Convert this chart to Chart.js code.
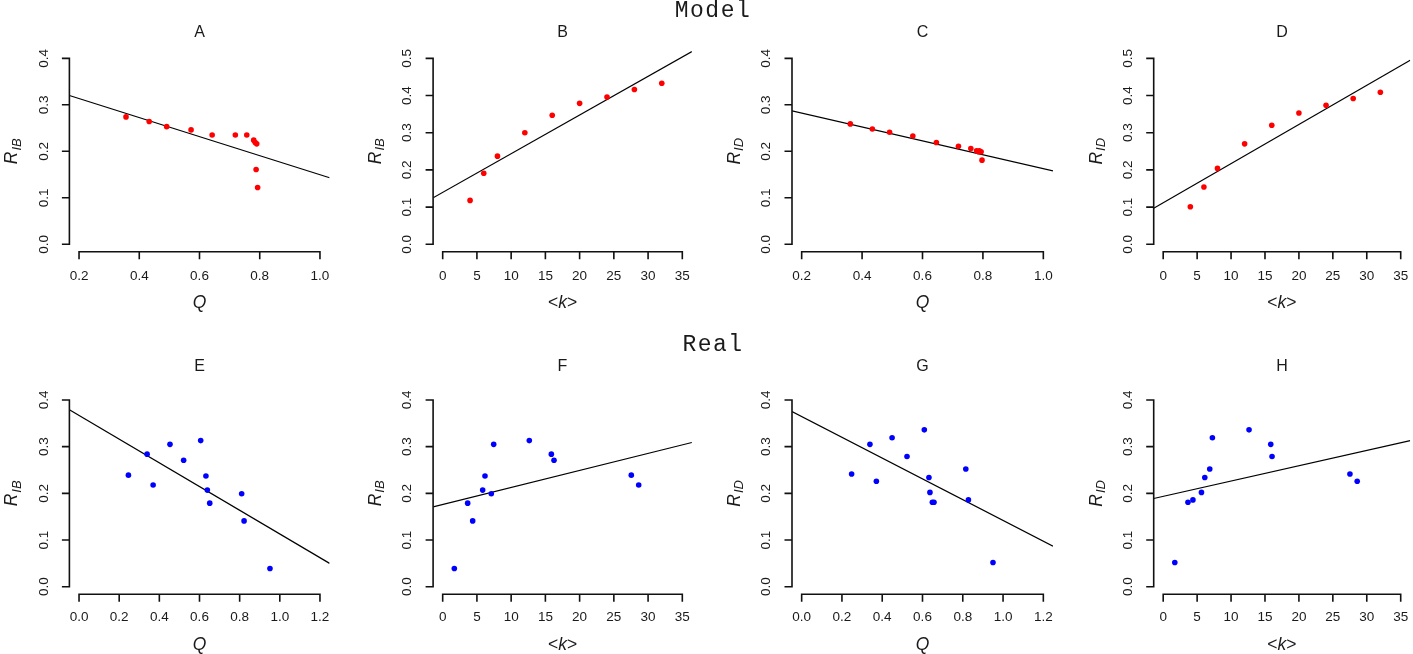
<!DOCTYPE html>
<html>
<head>
<meta charset="utf-8">
<script src="https://cdn.jsdelivr.net/npm/chart.js@4/dist/chart.umd.min.js"></script>
<style>
html,body{margin:0;padding:0;background:#fff;}
#wrap{position:relative;width:1413px;height:654px;overflow:hidden;background:#fff;}
#wrap canvas{position:absolute;left:0;top:0;}
</style>
</head>
<body>
<div id="wrap"></div>
<script>
// ================= DATA =================
const panelLetters = ["A","B","C","D","E","F","G","H"];
const rowTitles = ["Model","Real"];

const qTicksModel = [0.2,0.4,0.6,0.8,1.0];
const qTickLabelsModel = ["0.2","0.4","0.6","0.8","1.0"];
const qTicksReal = [0.0,0.2,0.4,0.6,0.8,1.0,1.2];
const qTickLabelsReal = ["0.0","0.2","0.4","0.6","0.8","1.0","1.2"];
const kTicks = [0,5,10,15,20,25,30,35];
const kTickLabels = ["0","5","10","15","20","25","30","35"];
const rTicks4 = [0.0,0.1,0.2,0.3,0.4];
const rTickLabels4 = ["0.0","0.1","0.2","0.3","0.4"];
const rTicks5 = [0.0,0.1,0.2,0.3,0.4,0.5];
const rTickLabels5 = ["0.0","0.1","0.2","0.3","0.4","0.5"];

// Panel A (Model, Q vs R_IB)
const aQ = [0.356,0.433,0.491,0.572,0.642,0.719,0.757,0.780,0.785,0.790,0.788,0.793];
const aR = [0.274,0.264,0.253,0.246,0.235,0.235,0.235,0.224,0.219,0.216,0.161,0.122];
const aLineQ = [0.168,1.032];
const aLineR = [0.320,0.143];

// Panel B (Model, <k> vs R_IB)
const bK = [4,6,8,12,16,20,24,28,32];
const bR = [0.118,0.191,0.237,0.300,0.347,0.379,0.396,0.416,0.433];
const bLineK = [-1.4,36.4];
const bLineR = [0.125,0.518];

// Panel C (Model, Q vs R_ID)
const cQ = [0.361,0.434,0.491,0.568,0.646,0.719,0.760,0.779,0.786,0.788,0.794,0.797];
const cR = [0.259,0.248,0.241,0.233,0.219,0.211,0.206,0.201,0.199,0.201,0.199,0.181];
const cLineQ = [0.168,1.032];
const cLineR = [0.287,0.158];

// Panel D (Model, <k> vs R_ID)
const dK = [4,6,8,12,16,20,24,28,32];
const dR = [0.101,0.154,0.204,0.270,0.320,0.353,0.374,0.392,0.409];
const dLineK = [-1.4,36.4];
const dLineR = [0.097,0.495];

// Panel E (Real, Q vs R_IB)
const eQ = [0.246,0.339,0.369,0.453,0.521,0.606,0.632,0.639,0.651,0.810,0.822,0.951];
const eR = [0.239,0.284,0.218,0.305,0.271,0.313,0.237,0.207,0.179,0.199,0.141,0.039];
const eLineQ = [-0.048,1.248];
const eLineR = [0.379,0.050];

// Panel F (Real, <k> vs R_IB)
const fK = [1.70,3.65,4.38,5.84,6.18,7.10,7.45,12.65,15.87,16.26,27.55,28.63];
const fR = [0.039,0.179,0.141,0.207,0.237,0.199,0.305,0.313,0.284,0.271,0.239,0.218];
const fLineK = [-1.4,36.4];
const fLineR = [0.171,0.309];

// Panel G (Real, Q vs R_ID)
const gQ = [0.248,0.339,0.371,0.449,0.523,0.609,0.632,0.637,0.649,0.657,0.815,0.828,0.950];
const gR = [0.2415,0.305,0.226,0.319,0.279,0.336,0.234,0.202,0.181,0.181,0.252,0.186,0.052];
const gLineQ = [-0.048,1.248];
const gLineR = [0.375,0.087];

// Panel H (Real, <k> vs R_ID)
const hK = [1.71,3.65,4.38,5.64,6.13,6.86,7.25,12.65,15.85,16.04,27.52,28.59];
const hR = [0.052,0.181,0.186,0.202,0.234,0.252,0.319,0.336,0.305,0.279,0.2415,0.226];
const hLineK = [-1.4,36.4];
const hLineR = [0.189,0.313];

// ================= LAYOUT / STYLE =================
const W = 1413, H = 654;
const cols = [
  {left:69.4,  right:329.6},
  {left:433.1, right:691.9},
  {left:792.0, right:1053.0},
  {left:1153.7,right:1412.9}
];
const rows = [
  {top:50.9,  bottom:251.7, titleY:33,    xLabY:276.5, xTitleY:303, headerY:11},
  {top:392.5, bottom:594.2, titleY:366.5, xLabY:617.5, xTitleY:645, headerY:345}
];
const TEXT = "#1a1a1a";
const AXIS = "#111";
const SANS = "'Liberation Sans', Arial, sans-serif";
const TICK_FONT = "13.5px " + SANS;

function pts(xs, ys){ return xs.map((x,i)=>({x:x, y:ys[i]})); }

const panels = [
  {row:0,col:0,px:aQ,py:aR,lx:aLineQ,ly:aLineR,xt:qTicksModel,xl:qTickLabelsModel,yt:rTicks4,yl:rTickLabels4,xname:"Q",sub:"IB",color:"#ff0000"},
  {row:0,col:1,px:bK,py:bR,lx:bLineK,ly:bLineR,xt:kTicks,xl:kTickLabels,yt:rTicks5,yl:rTickLabels5,xname:"k",sub:"IB",color:"#ff0000"},
  {row:0,col:2,px:cQ,py:cR,lx:cLineQ,ly:cLineR,xt:qTicksModel,xl:qTickLabelsModel,yt:rTicks4,yl:rTickLabels4,xname:"Q",sub:"ID",color:"#ff0000"},
  {row:0,col:3,px:dK,py:dR,lx:dLineK,ly:dLineR,xt:kTicks,xl:kTickLabels,yt:rTicks5,yl:rTickLabels5,xname:"k",sub:"ID",color:"#ff0000"},
  {row:1,col:0,px:eQ,py:eR,lx:eLineQ,ly:eLineR,xt:qTicksReal,xl:qTickLabelsReal,yt:rTicks4,yl:rTickLabels4,xname:"Q",sub:"IB",color:"#0000ff"},
  {row:1,col:1,px:fK,py:fR,lx:fLineK,ly:fLineR,xt:kTicks,xl:kTickLabels,yt:rTicks4,yl:rTickLabels4,xname:"k",sub:"IB",color:"#0000ff"},
  {row:1,col:2,px:gQ,py:gR,lx:gLineQ,ly:gLineR,xt:qTicksReal,xl:qTickLabelsReal,yt:rTicks4,yl:rTickLabels4,xname:"Q",sub:"ID",color:"#0000ff"},
  {row:1,col:3,px:hK,py:hR,lx:hLineK,ly:hLineR,xt:kTicks,xl:kTickLabels,yt:rTicks4,yl:rTickLabels4,xname:"k",sub:"ID",color:"#0000ff"}
];

// draw a sequence of text parts centered at (cx, cy) along current x direction
function drawParts(ctx, parts, cx, cy){
  let total = 0;
  parts.forEach(p => { ctx.font = p.font; p.w = ctx.measureText(p.t).width + (p.gap||0); total += p.w; });
  let x = cx - total/2;
  ctx.textAlign = "left";
  ctx.textBaseline = "middle";
  parts.forEach(p => { ctx.font = p.font; ctx.fillText(p.t, x + (p.gap||0), cy + (p.dy||0)); x += p.w; });
}

function makePlugin(p, idx){
  const row = rows[p.row];
  return {
    id: 'rAxes' + idx,
    afterDraw(chart){
      const ctx = chart.ctx, xs = chart.scales.x, ys = chart.scales.y, ca = chart.chartArea;
      ctx.save();
      ctx.strokeStyle = AXIS; ctx.lineWidth = 1.6; ctx.lineCap = "butt";
      // y axis
      const yA = ys.getPixelForValue(p.yt[0]), yB = ys.getPixelForValue(p.yt[p.yt.length-1]);
      ctx.beginPath();
      ctx.moveTo(ca.left, yA + 0.8); ctx.lineTo(ca.left, yB - 0.8);
      p.yt.forEach(v => { const y = ys.getPixelForValue(v); ctx.moveTo(ca.left, y); ctx.lineTo(ca.left - 7.5, y); });
      // x axis
      const xA = xs.getPixelForValue(p.xt[0]), xB = xs.getPixelForValue(p.xt[p.xt.length-1]);
      ctx.moveTo(xA - 0.8, ca.bottom); ctx.lineTo(xB + 0.8, ca.bottom);
      p.xt.forEach(v => { const x = xs.getPixelForValue(v); ctx.moveTo(x, ca.bottom); ctx.lineTo(x, ca.bottom + 7.5); });
      ctx.stroke();

      ctx.fillStyle = TEXT;
      // x tick labels
      ctx.font = TICK_FONT; ctx.textAlign = "center"; ctx.textBaseline = "middle";
      p.xt.forEach((v,i) => { ctx.fillText(p.xl[i], xs.getPixelForValue(v), row.xLabY); });
      // y tick labels (rotated)
      p.yt.forEach((v,i) => {
        ctx.save();
        ctx.translate(ca.left - 25.5, ys.getPixelForValue(v));
        ctx.rotate(-Math.PI/2);
        ctx.font = TICK_FONT; ctx.textAlign = "center"; ctx.textBaseline = "middle";
        ctx.fillText(p.yl[i], 0, 0);
        ctx.restore();
      });
      const cx = (ca.left + ca.right)/2;
      // x axis title
      if (p.xname === "Q") {
        drawParts(ctx, [{t:"Q", font:"italic 17.5px " + SANS}], cx, row.xTitleY);
      } else {
        drawParts(ctx, [{t:"<", font:"17.5px " + SANS},{t:"k", font:"italic 17.5px " + SANS},{t:">", font:"17.5px " + SANS}], cx, row.xTitleY);
      }
      // y axis title (rotated)
      ctx.save();
      ctx.translate(ca.left - 57, (ca.top + ca.bottom)/2);
      ctx.rotate(-Math.PI/2);
      drawParts(ctx, [{t:"R", font:"italic 17.5px " + SANS},{t:p.sub, font:"italic 13px " + SANS, dy:4.5, gap:1}], 0, 0);
      ctx.restore();
      // panel letter
      ctx.font = "16px " + SANS; ctx.textAlign = "center"; ctx.textBaseline = "middle";
      ctx.fillText(panelLetters[idx], cx, row.titleY);
      // row header
      if (p.col === 1) {
        ctx.font = "23px 'Liberation Mono', 'Courier New', monospace";
        try { ctx.letterSpacing = "1.5px"; } catch(e) {}
        ctx.textAlign = "center"; ctx.textBaseline = "middle";
        ctx.fillText(rowTitles[p.row], 713, row.headerY);
        try { ctx.letterSpacing = "0px"; } catch(e) {}
      }
      ctx.restore();
    }
  };
}

const wrap = document.getElementById('wrap');
panels.forEach((p, idx) => {
  const cv = document.createElement('canvas');
  cv.width = W; cv.height = H;
  cv.style.width = W + 'px'; cv.style.height = H + 'px';
  wrap.appendChild(cv);
  const col = cols[p.col], row = rows[p.row];
  const xr = p.xt[p.xt.length-1] - p.xt[0], yr = p.yt[p.yt.length-1] - p.yt[0];
  new Chart(cv, {
    type: 'scatter',
    data: {
      datasets: [
        {
          data: pts(p.px, p.py),
          backgroundColor: p.color, borderColor: p.color, borderWidth: 0,
          pointRadius: 2.8, pointHoverRadius: 2.8, showLine: false, order: 0
        },
        {
          data: pts(p.lx, p.ly),
          showLine: true, borderColor: "#000", borderWidth: 1.2,
          pointRadius: 0, pointHoverRadius: 0, fill: false, tension: 0, order: 1
        }
      ]
    },
    options: {
      responsive: false, maintainAspectRatio: false, animation: false, devicePixelRatio: 1,
      events: [],
      layout: { padding: { left: col.left, right: W - col.right, top: row.top, bottom: H - row.bottom } },
      plugins: { legend: { display: false }, tooltip: { enabled: false }, title: { display: false } },
      scales: {
        x: { type: 'linear', display: false, min: p.xt[0] - 0.04*xr, max: p.xt[p.xt.length-1] + 0.04*xr },
        y: { type: 'linear', display: false, min: p.yt[0] - 0.04*yr, max: p.yt[p.yt.length-1] + 0.04*yr }
      }
    },
    plugins: [makePlugin(p, idx)]
  });
});
</script>
</body>
</html>
